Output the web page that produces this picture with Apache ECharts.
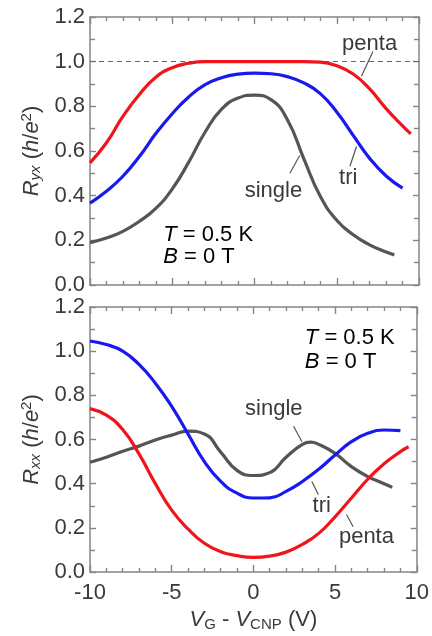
<!DOCTYPE html>
<html>
    <head>
        <meta charset="UTF-8">
        <script src="https://cdn.jsdelivr.net/npm/echarts@6/dist/echarts.min.js"></script>
        <style>
            html, body { margin: 0; padding: 0; background: #fff; }
            #chart { width: 432px; height: 636px; }
        </style>
    </head>
    <body>
        <div id="chart"></div>
        <script>
            // top panel: Ryx
            const ryxPentaX = [-10, -9, -8, -7, -6, -5, -4, -3, -2, -1, 0, 1, 2, 3, 4, 5, 6, 7, 8, 9, 9.5];
            const ryxPenta = [0.547, 0.637, 0.755, 0.853, 0.93, 0.973, 0.993, 1.0, 1.0, 1.0, 1.0, 1.0, 1.0, 1.0, 0.998, 0.982, 0.945, 0.878, 0.79, 0.713, 0.677];
            const ryxTriX = [-10, -9, -8, -7, -6, -5, -4, -3, -2, -1, 0, 1, 2, 3, 4, 5, 6, 7, 8, 9];
            const ryxTri = [0.367, 0.42, 0.487, 0.575, 0.678, 0.767, 0.842, 0.897, 0.928, 0.944, 0.949, 0.946, 0.933, 0.905, 0.857, 0.775, 0.67, 0.567, 0.488, 0.434];
            const ryxSingleX = [-10, -9, -8, -7, -6, -5, -4, -3, -2, -1, 0, 1, 2, 3, 4, 5, 6, 7, 8, 8.5];
            const ryxSingle = [0.19, 0.21, 0.24, 0.285, 0.343, 0.43, 0.55, 0.685, 0.787, 0.837, 0.85, 0.83, 0.74, 0.565, 0.397, 0.29, 0.225, 0.18, 0.148, 0.135];

            // bottom panel: Rxx
            const rxxTriX = [-10, -9, -8, -7, -6, -5, -4, -3, -2, -1, 0, 1, 2, 3, 4, 5, 6, 7, 8, 9];
            const rxxTri = [1.046, 1.03, 1.0, 0.94, 0.855, 0.75, 0.625, 0.50, 0.41, 0.357, 0.335, 0.336, 0.365, 0.41, 0.465, 0.53, 0.59, 0.628, 0.643, 0.64];
            const rxxPentaX = [-10, -9, -8, -7, -6, -5, -4, -3, -2, -1, 0, 1, 2, 3, 4, 5, 6, 7, 8, 9, 9.5];
            const rxxPenta = [0.74, 0.71, 0.645, 0.535, 0.40, 0.28, 0.195, 0.13, 0.092, 0.074, 0.066, 0.072, 0.09, 0.125, 0.175, 0.25, 0.335, 0.42, 0.49, 0.545, 0.567];
            const rxxSingleX = [-10, -9, -8, -7, -6, -5, -4, -3, -2, -1, 0, 1, 2, 3, 3.5, 4, 5, 6, 7, 8, 8.5];
            const rxxSingle = [0.497, 0.52, 0.547, 0.57, 0.598, 0.62, 0.638, 0.625, 0.543, 0.46, 0.437, 0.45, 0.52, 0.578, 0.588, 0.578, 0.537, 0.477, 0.432, 0.40, 0.383];

            const quantumLevel = 1.0;

            const FONT = 'Liberation Sans, Arial, sans-serif';
            const FS = 22;
            const TEXT = '#3a3a3a';
            const FRAME = '#858585';
            const RED = '#f0141c';
            const BLUE = '#1818f0';
            const GREY = '#555555';

            const pairs = (xs, ys) => xs.map((x, i) => [x, ys[i]]);

            const rich = {
                n: {fontSize: FS, fontFamily: FONT, color: TEXT},
                i: {fontStyle: 'italic', fontSize: FS, fontFamily: FONT, color: TEXT},
                sub: {fontSize: 15, fontFamily: FONT, color: TEXT, padding: [9, 0, 0, 0]},
                subi: {fontSize: 15, fontStyle: 'italic', fontFamily: FONT, color: TEXT, padding: [9, 0, 0, 0]},
                sup: {fontSize: 15, fontFamily: FONT, color: TEXT, padding: [0, 0, 10, 0]}
            };

            function xAxis(grid, pos, labels) {
                return {
                    gridIndex: grid, type: 'value', position: pos,
                    min: -10, max: 10, interval: 5,
                    axisLine: {show: true, onZero: false, lineStyle: {color: FRAME, width: 1.5}},
                    axisTick: {show: true, inside: true, length: 7, lineStyle: {color: FRAME, width: 1.4}},
                    minorTick: {show: true, splitNumber: 5, length: 4, lineStyle: {color: FRAME, width: 1.4}},
                    splitLine: {show: false},
                    axisLabel: {show: labels, color: TEXT, fontSize: FS, fontFamily: FONT, margin: 10},
                    name: labels ? '{i|V}{sub|G}{n| - }{i|V}{sub|CNP}{n| (V)}' : '',
                    nameLocation: 'middle', nameGap: 36,
                    nameTextStyle: {fontSize: FS, fontFamily: FONT, color: TEXT, rich: rich}
                };
            }

            function yAxis(grid, pos, labels, name) {
                return {
                    gridIndex: grid, type: 'value', position: pos,
                    min: 0, max: 1.2, interval: 0.2,
                    axisLine: {show: true, onZero: false, lineStyle: {color: FRAME, width: 1.5}},
                    axisTick: {show: true, inside: true, length: 6, lineStyle: {color: FRAME, width: 1.4}},
                    minorTick: {show: true, splitNumber: 2, length: 5, lineStyle: {color: FRAME, width: 1.4}},
                    splitLine: {show: false},
                    axisLabel: {show: labels, color: TEXT, fontSize: FS, fontFamily: FONT, margin: 5,
                        formatter: v => v.toFixed(1)},
                    name: labels ? name : '',
                    nameLocation: 'middle', nameGap: 46,
                    nameTextStyle: {fontSize: FS, fontFamily: FONT, color: TEXT, rich: rich}
                };
            }

            function line(name, data, color, x, y) {
                return {
                    name: name, type: 'line', data: data,
                    xAxisIndex: x, yAxisIndex: y,
                    smooth: 0.5,
                    showSymbol: false, silent: true,
                    lineStyle: {color: color, width: 3.2},
                    z: 3
                };
            }

            const chart = echarts.init(document.getElementById('chart'));

            const series = [
                line('single', pairs(ryxSingleX, ryxSingle), GREY, 0, 0),
                line('tri', pairs(ryxTriX, ryxTri), BLUE, 0, 0),
                line('penta', pairs(ryxPentaX, ryxPenta), RED, 0, 0),
                line('single', pairs(rxxSingleX, rxxSingle), GREY, 2, 2),
                line('tri', pairs(rxxTriX, rxxTri), BLUE, 2, 2),
                line('penta', pairs(rxxPentaX, rxxPenta), RED, 2, 2)
            ];
            series[2].markLine = {
                silent: true, symbol: 'none', label: {show: false},
                lineStyle: {color: '#666', type: [5, 4], width: 1.2},
                data: [{yAxis: quantumLevel}],
                z: 1
            };

            chart.setOption({
                animation: false,
                grid: [
                    {left: 90, width: 329, top: 17, height: 268},
                    {left: 90, width: 329, top: 307, height: 265}
                ],
                xAxis: [xAxis(0, 'bottom', false), xAxis(0, 'top', false), xAxis(1, 'bottom', true), xAxis(1, 'top', false)],
                yAxis: [
                    yAxis(0, 'left', true, '{i|R}{subi|yx}{n| (}{i|h}{n|/}{i|e}{sup|2}{n|)}'),
                    yAxis(0, 'right', false),
                    yAxis(1, 'left', true, '{i|R}{subi|xx}{n| (}{i|h}{n|/}{i|e}{sup|2}{n|)}'),
                    yAxis(1, 'right', false)
                ],
                series: series
            });

            // annotations, placed in data coordinates of each panel
            const notes = [
                {grid: 0, text: 'penta', at: [7.0, 1.08], from: [7.2, 1.045], to: [6.5, 0.935]},
                {grid: 0, text: 'tri', at: [5.7, 0.48], from: [5.8, 0.532], to: [6.2, 0.62]},
                {grid: 0, text: 'single', at: [1.15, 0.42], from: [2.15, 0.50], to: [2.75, 0.58]},
                {grid: 1, text: 'single', at: [1.25, 0.74], from: [2.46, 0.66], to: [2.97, 0.59]},
                {grid: 1, text: 'tri', at: [4.18, 0.30], from: [3.58, 0.41], to: [3.98, 0.35]},
                {grid: 1, text: 'penta', at: [6.92, 0.16], from: [5.7, 0.26], to: [6.1, 0.205]}
            ];
            const conds = [
                {grid: 0, at: [-5.55, 0.225], at2: [-5.55, 0.127]},
                {grid: 1, at: [3.15, 1.058], at2: [3.15, 0.953]}
            ];

            const graphic = [];
            notes.forEach(n => {
                const p = chart.convertToPixel({gridIndex: n.grid}, n.at);
                const a = chart.convertToPixel({gridIndex: n.grid}, n.from);
                const b = chart.convertToPixel({gridIndex: n.grid}, n.to);
                graphic.push({type: 'text', x: p[0], y: p[1], style: {
                    text: n.text, fill: TEXT, font: FS + 'px ' + FONT, align: 'center', verticalAlign: 'middle'}});
                graphic.push({type: 'line', shape: {x1: a[0], y1: a[1], x2: b[0], y2: b[1]},
                    style: {stroke: GREY, lineWidth: 1.2}});
            });
            conds.forEach(c => {
                const p = chart.convertToPixel({gridIndex: c.grid}, c.at);
                const q = chart.convertToPixel({gridIndex: c.grid}, c.at2);
                graphic.push({type: 'text', x: p[0], y: p[1], style: {
                    text: '{i|T}{n| = 0.5 K}', rich: rich, verticalAlign: 'middle'}});
                graphic.push({type: 'text', x: q[0], y: q[1], style: {
                    text: '{i|B}{n| = 0 T}', rich: rich, verticalAlign: 'middle'}});
            });
            chart.setOption({graphic: graphic});
        </script>
    </body>
</html>
